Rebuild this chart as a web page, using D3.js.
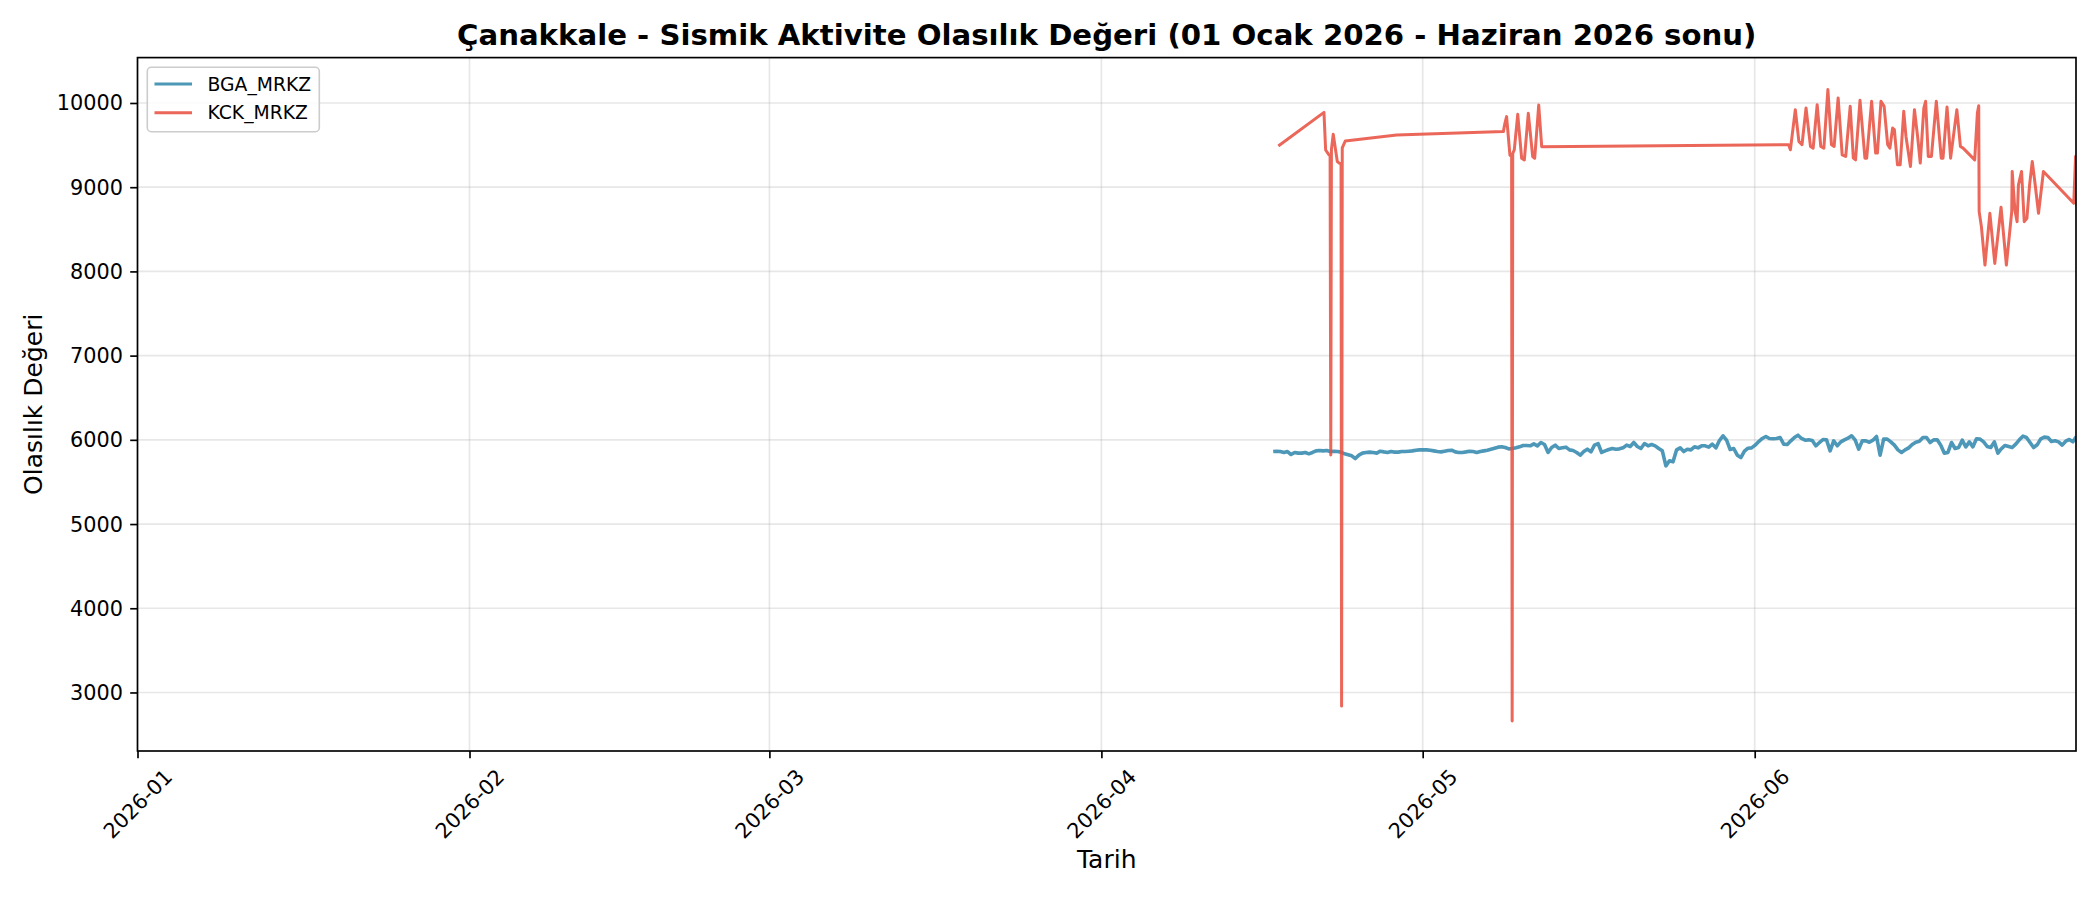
<!DOCTYPE html>
<html>
<head>
<meta charset="utf-8">
<script src="https://cdn.jsdelivr.net/npm/d3@7/dist/d3.min.js"></script>
<style>
  body { margin: 0; background: #fff; }
  svg { display: block; }
  text { font-family: "DejaVu Sans", sans-serif; fill: #000; }
</style>
</head>
<body>
<svg id="chart" width="2100" height="900"></svg>
<script>
// ---------------- DATA ----------------
const chartTitle = "Çanakkale - Sismik Aktivite Olasılık Değeri (01 Ocak 2026 - Haziran 2026 sonu)";
const xLabel = "Tarih";
const yLabel = "Olasılık Değeri";
const seriesNames = ["BGA_MRKZ", "KCK_MRKZ"];
const xTickLabels = ["2026-01", "2026-02", "2026-03", "2026-04", "2026-05", "2026-06"];
const yTickValues = [3000, 4000, 5000, 6000, 7000, 8000, 9000, 10000];
const xDomain = ["2026-01-01T00:00", "2026-07-01T00:00"];
const yDomain = [2305, 10539];

// BGA_MRKZ: regular series, one value every 8 hours from the start time
const bgaStart = "2026-04-17T01:00";
const bgaStepHours = 8;
const bgaValues = [
  5861,5865,5861,5850,5861,5826,5850,5842,5842,5850,
  5834,5850,5869,5873,5869,5873,5861,5865,5861,5854,
  5834,5822,5810,5778,5818,5842,5850,5854,5850,5842,
  5865,5857,5850,5861,5854,5854,5861,5861,5865,5869,
  5877,5881,5881,5881,5877,5869,5861,5857,5865,5873,
  5877,5857,5850,5850,5857,5865,5861,5850,5861,5869,
  5877,5889,5901,5913,5917,5909,5893,5897,5905,5917,
  5933,5933,5929,5952,5929,5968,5945,5850,5909,5937,
  5897,5905,5913,5881,5873,5850,5818,5861,5889,5857,
  5937,5956,5850,5869,5885,5897,5889,5893,5905,5937,
  5921,5968,5921,5897,5956,5929,5945,5929,5897,5869,
  5691,5751,5739,5881,5905,5861,5889,5881,5917,5905,
  5929,5929,5913,5949,5905,5992,6048,5996,5885,5897,
  5818,5790,5865,5901,5905,5937,5980,6016,6040,6016,
  6012,6016,6028,5949,5945,5988,6028,6055,6016,5996,
  6000,5992,5929,5968,6004,6000,5869,5988,5929,5976,
  6000,6020,6048,6000,5889,5988,5988,5972,5996,6040,
  5818,6008,6008,5976,5937,5881,5850,5881,5905,5945,
  5972,5984,6028,6028,5968,6000,6000,5937,5842,5850,
  5968,5897,5909,5996,5917,5976,5917,6012,6008,5976,
  5921,5909,5976,5842,5897,5933,5921,5909,5949,6000,
  6044,6028,5968,5909,5941,6012,6032,6028,5980,5988,
  5976,5937,5984,6004,5976,6040
];

// KCK_MRKZ: irregular timestamps
const kckDates = [
  "2026-04-17T12:30","2026-04-21T18:45","2026-04-21T22:30","2026-04-22T04:30","2026-04-22T08:30",
  "2026-04-22T10:00","2026-04-22T11:30","2026-04-22T15:30","2026-04-23T00:45","2026-04-23T05:00",
  "2026-04-23T09:00","2026-04-23T10:15","2026-04-23T11:45","2026-04-23T18:30","2026-04-28T13:40",
  "2026-05-08T12:45","2026-05-08T16:15","2026-05-08T20:00","2026-05-09T03:30","2026-05-09T07:15",
  "2026-05-09T08:30","2026-05-09T09:45","2026-05-09T13:15","2026-05-09T21:00","2026-05-10T05:45",
  "2026-05-10T11:45","2026-05-10T20:40","2026-05-11T06:30","2026-05-11T11:00","2026-05-11T20:00",
  "2026-05-12T02:40",
  "2026-06-04T04:00","2026-06-04T08:00","2026-06-04T19:00","2026-06-05T03:00","2026-06-05T10:00",
  "2026-06-05T19:00","2026-06-06T05:00","2026-06-06T11:00","2026-06-06T20:00","2026-06-07T04:00",
  "2026-06-07T11:00","2026-06-07T20:00","2026-06-08T04:00","2026-06-08T10:00","2026-06-08T19:00",
  "2026-06-09T04:00","2026-06-09T12:00","2026-06-09T22:00","2026-06-10T05:00","2026-06-10T10:00",
  "2026-06-10T20:00","2026-06-11T07:00","2026-06-11T11:00","2026-06-11T22:00","2026-06-12T07:00",
  "2026-06-12T11:00","2026-06-12T19:00","2026-06-13T02:00","2026-06-13T10:00","2026-06-13T15:00",
  "2026-06-13T21:00","2026-06-14T01:00","2026-06-14T08:00","2026-06-14T14:00","2026-06-14T22:00",
  "2026-06-15T03:00","2026-06-15T13:00","2026-06-15T22:00","2026-06-16T05:00","2026-06-16T11:00",
  "2026-06-16T19:00","2026-06-16T23:00","2026-06-17T05:00","2026-06-17T12:00","2026-06-17T23:00",
  "2026-06-18T10:00","2026-06-18T14:00","2026-06-18T23:00","2026-06-19T07:00","2026-06-19T21:00",
  "2026-06-20T05:00","2026-06-20T11:00","2026-06-21T13:00","2026-06-21T19:00","2026-06-21T22:00",
  "2026-06-21T23:00","2026-06-22T04:00","2026-06-22T12:00","2026-06-22T23:00","2026-06-23T10:00",
  "2026-06-24T00:00","2026-06-24T12:00","2026-06-25T00:00","2026-06-25T01:00","2026-06-25T07:00",
  "2026-06-25T12:00","2026-06-25T15:00","2026-06-25T22:00","2026-06-26T04:00","2026-06-26T10:00",
  "2026-06-26T16:00","2026-06-26T22:00","2026-06-27T05:00","2026-06-27T12:00","2026-06-27T23:00",
  "2026-06-30T19:00","2026-06-30T23:00","2026-07-01T02:00"
];
const kckValues = [
  9489,9889,9442,9395,9370,
  5820,9450,9628,9303,9285,
  9280,2840,9466,9549,9620,
  9660,9759,9838,9382,9360,
  2660,9400,9442,9866,9343,
  9323,9877,9364,9344,9976,
  9481,
  9504,9444,9921,9544,9504,
  9940,9484,9464,9980,9484,
  9464,10159,9504,9484,10060,
  9385,9365,9960,9345,9325,
  10032,9345,9345,10020,9405,
  9405,10020,9960,9504,9464,
  9702,9683,9266,9266,9901,
  9603,9246,9921,9603,9286,
  9940,10020,9365,9365,10020,
  9345,9345,9952,9345,9921,
  9484,9464,9325,9881,9968,
  8710,8532,8075,8690,8095,
  8762,8075,8710,9187,8730,
  8591,9028,9187,8591,8631,
  9028,9306,9008,8690,9187,
  8810,9365,8770
];

const seriesColors = ["#2E86AB", "#E74C3C"];

// ---------------- LAYOUT ----------------
const W = 2100, H = 900;
const plot = { left: 137.5, right: 2076, top: 57.6, bottom: 751 };
const svg = d3.select("#chart");
svg.append("rect").attr("width", W).attr("height", H).attr("fill", "#fff");

const parseT = d3.utcParse("%Y-%m-%dT%H:%M");
const parseM = d3.utcParse("%Y-%m");

const x = d3.scaleUtc().domain(xDomain.map(parseT)).range([plot.left, plot.right]);
const y = d3.scaleLinear().domain(yDomain).range([plot.bottom, plot.top]);

const t0 = parseT(bgaStart);
const bgaData = bgaValues.map((v, i) => ({ t: new Date(t0.getTime() + i * bgaStepHours * 3600e3), v }));
const kckData = kckDates.map((d, i) => ({ t: parseT(d), v: kckValues[i] }));
const xTickDates = xTickLabels.map(parseM);

// clip
svg.append("defs").append("clipPath").attr("id", "clip")
  .append("rect").attr("x", plot.left).attr("y", plot.top)
  .attr("width", plot.right - plot.left).attr("height", plot.bottom - plot.top);

// grid
const grid = svg.append("g");
grid.selectAll("line.gx").data(xTickDates).enter().append("line")
  .attr("x1", d => x(d)).attr("x2", d => x(d))
  .attr("y1", plot.top).attr("y2", plot.bottom)
  .attr("stroke", "#b0b0b0").attr("stroke-opacity", 0.3).attr("stroke-width", 1.67);
grid.selectAll("line.gy").data(yTickValues).enter().append("line")
  .attr("x1", plot.left).attr("x2", plot.right)
  .attr("y1", d => y(d)).attr("y2", d => y(d))
  .attr("stroke", "#b0b0b0").attr("stroke-opacity", 0.3).attr("stroke-width", 1.67);

// lines
const line = d3.line().x(d => x(d.t)).y(d => y(d.v));
const lines = svg.append("g").attr("clip-path", "url(#clip)");
lines.append("path").datum(bgaData).attr("d", line)
  .attr("fill", "none").attr("stroke", seriesColors[0]).attr("stroke-opacity", 0.85)
  .attr("stroke-width", 3.6).attr("stroke-linejoin", "round");
lines.append("path").datum(kckData).attr("d", line)
  .attr("fill", "none").attr("stroke", seriesColors[1]).attr("stroke-opacity", 0.85)
  .attr("stroke-width", 3.0).attr("stroke-linejoin", "round");

// axes via d3
const xAxis = d3.axisBottom(x).tickValues(xTickDates).tickSizeInner(7.3).tickSizeOuter(0)
  .tickPadding(7.3).tickFormat((d, i) => xTickLabels[i]);
const gx = svg.append("g").attr("transform", `translate(0,${plot.bottom})`).call(xAxis);
gx.select(".domain").remove();
gx.selectAll(".tick line").attr("stroke", "#000").attr("stroke-width", 1.67);
gx.selectAll(".tick text")
  .attr("font-size", 20.8).attr("font-family", "DejaVu Sans").attr("fill", "#000")
  .attr("text-anchor", "middle").attr("dy", null).attr("y", null)
  .attr("dominant-baseline", "central")
  .attr("transform", "translate(0,53) rotate(-45)");

const yAxis = d3.axisLeft(y).tickValues(yTickValues).tickSizeInner(7.3).tickSizeOuter(0)
  .tickPadding(7.3).tickFormat(d3.format("d"));
const gy = svg.append("g").attr("transform", `translate(${plot.left},0)`).call(yAxis);
gy.select(".domain").remove();
gy.selectAll(".tick line").attr("stroke", "#000").attr("stroke-width", 1.67);
gy.selectAll(".tick text")
  .attr("font-size", 20.8).attr("font-family", "DejaVu Sans").attr("fill", "#000")
  .attr("dy", null).attr("dominant-baseline", "central");

// spines
svg.append("rect").attr("x", plot.left).attr("y", plot.top)
  .attr("width", plot.right - plot.left).attr("height", plot.bottom - plot.top)
  .attr("fill", "none").attr("stroke", "#000").attr("stroke-width", 1.67);

// title & labels
const cx = (plot.left + plot.right) / 2;
svg.append("text").attr("x", cx).attr("y", 45).attr("text-anchor", "middle")
  .attr("font-size", 29.2).attr("font-weight", "bold").text(chartTitle);
svg.append("text").attr("x", cx).attr("y", 868).attr("text-anchor", "middle")
  .attr("font-size", 25).text(xLabel);
svg.append("text").attr("transform", `translate(42,${(plot.top + plot.bottom) / 2}) rotate(-90)`)
  .attr("text-anchor", "middle").attr("font-size", 25).text(yLabel);

// legend
const lg = svg.append("g");
lg.append("rect").attr("x", 147.3).attr("y", 67.3).attr("width", 172).attr("height", 64.4)
  .attr("rx", 4).attr("fill", "#fff").attr("fill-opacity", 0.8)
  .attr("stroke", "#cccccc").attr("stroke-width", 1.6);
const legY = d3.scalePoint().domain(seriesNames).range([84, 112.7]);
seriesNames.forEach((name, i) => {
  lg.append("line").attr("x1", 154.5).attr("x2", 192)
    .attr("y1", legY(name)).attr("y2", legY(name))
    .attr("stroke", seriesColors[i]).attr("stroke-opacity", 0.85).attr("stroke-width", 3.0);
  lg.append("text").attr("x", 207.5).attr("y", legY(name)).attr("dominant-baseline", "central")
    .attr("font-size", 18.75).text(name);
});
</script>
</body>
</html>
